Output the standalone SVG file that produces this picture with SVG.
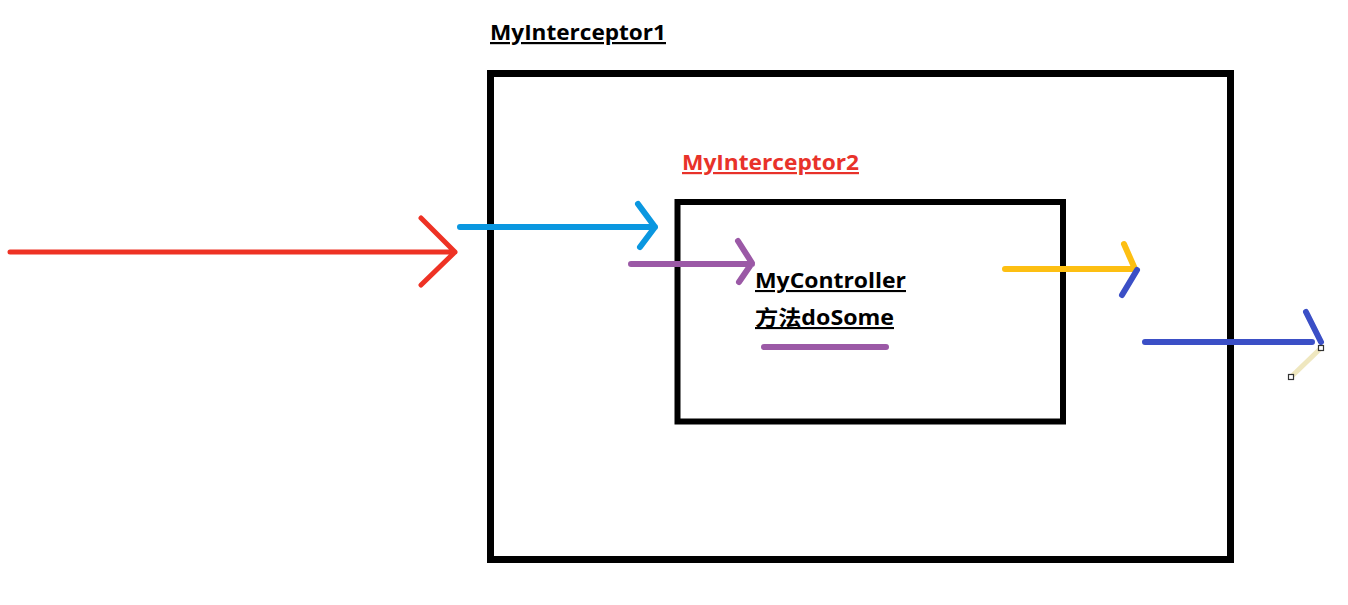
<svg xmlns="http://www.w3.org/2000/svg" width="1348" height="605" viewBox="0 0 1348 605">
<style>
.box{fill:none;stroke:#000;stroke-linejoin:miter}
.lbl{font-family:"Open Sans","Noto Sans CJK SC",sans-serif;font-weight:bold;text-decoration:underline}
.stk{fill:none;stroke-linecap:round;stroke-linejoin:round}
</style>
<rect width="1348" height="605" fill="#fff"/>
<g id="interceptor1">
<rect class="box" x="490.5" y="73.5" width="740" height="486" stroke-width="7"/>
<text class="lbl" x="490" y="40" font-size="22" fill="#000" textLength="176" lengthAdjust="spacingAndGlyphs">MyInterceptor1</text>
</g>
<g id="interceptor2">
<rect class="box" x="677.5" y="202" width="385.5" height="219.5" stroke-width="6"/>
<text class="lbl" x="682" y="170" font-size="22" fill="#e8322a" textLength="177" lengthAdjust="spacingAndGlyphs">MyInterceptor2</text>
</g>
<g id="controller">
<text class="lbl" x="755" y="288" font-size="21" fill="#000" textLength="151" lengthAdjust="spacingAndGlyphs">MyController</text>
<text class="lbl" x="755" y="325" font-size="21" fill="#000" textLength="139" lengthAdjust="spacingAndGlyphs">方法doSome</text>
<line class="stk" x1="764" y1="347" x2="886" y2="347" stroke="#9b59a6" stroke-width="6"/>
</g>
<g id="connectors">
<path class="stk" d="M10 252 H455 M421 218 L455 252 L421 285" stroke="#ee3224" stroke-width="5"/>
<path class="stk" d="M460 227 H655 M638 204 L655 227 L640 247" stroke="#0a97e0" stroke-width="6"/>
<path class="stk" d="M631 264 H752 M738 241 L752 263 L739 282" stroke="#9b59a6" stroke-width="6"/>
<path class="stk" d="M1005 269 H1135 M1124 244 L1135 269" stroke="#fdbf12" stroke-width="6"/>
<path class="stk" d="M1137 270 L1122 295" stroke="#3b4fc6" stroke-width="6"/>
<path class="stk" d="M1145 342 H1312 M1306 312 L1321 342" stroke="#3b4fc6" stroke-width="6"/>
<line x1="1321" y1="348" x2="1291" y2="377" stroke="#efe7bf" stroke-width="5" stroke-linecap="round"/>
<rect x="1318.5" y="345.5" width="5" height="5" fill="#fff" stroke="#333" stroke-width="1.2"/>
<rect x="1288.5" y="374.5" width="5" height="5" fill="#fff" stroke="#333" stroke-width="1.2"/>
</g>
</svg>
